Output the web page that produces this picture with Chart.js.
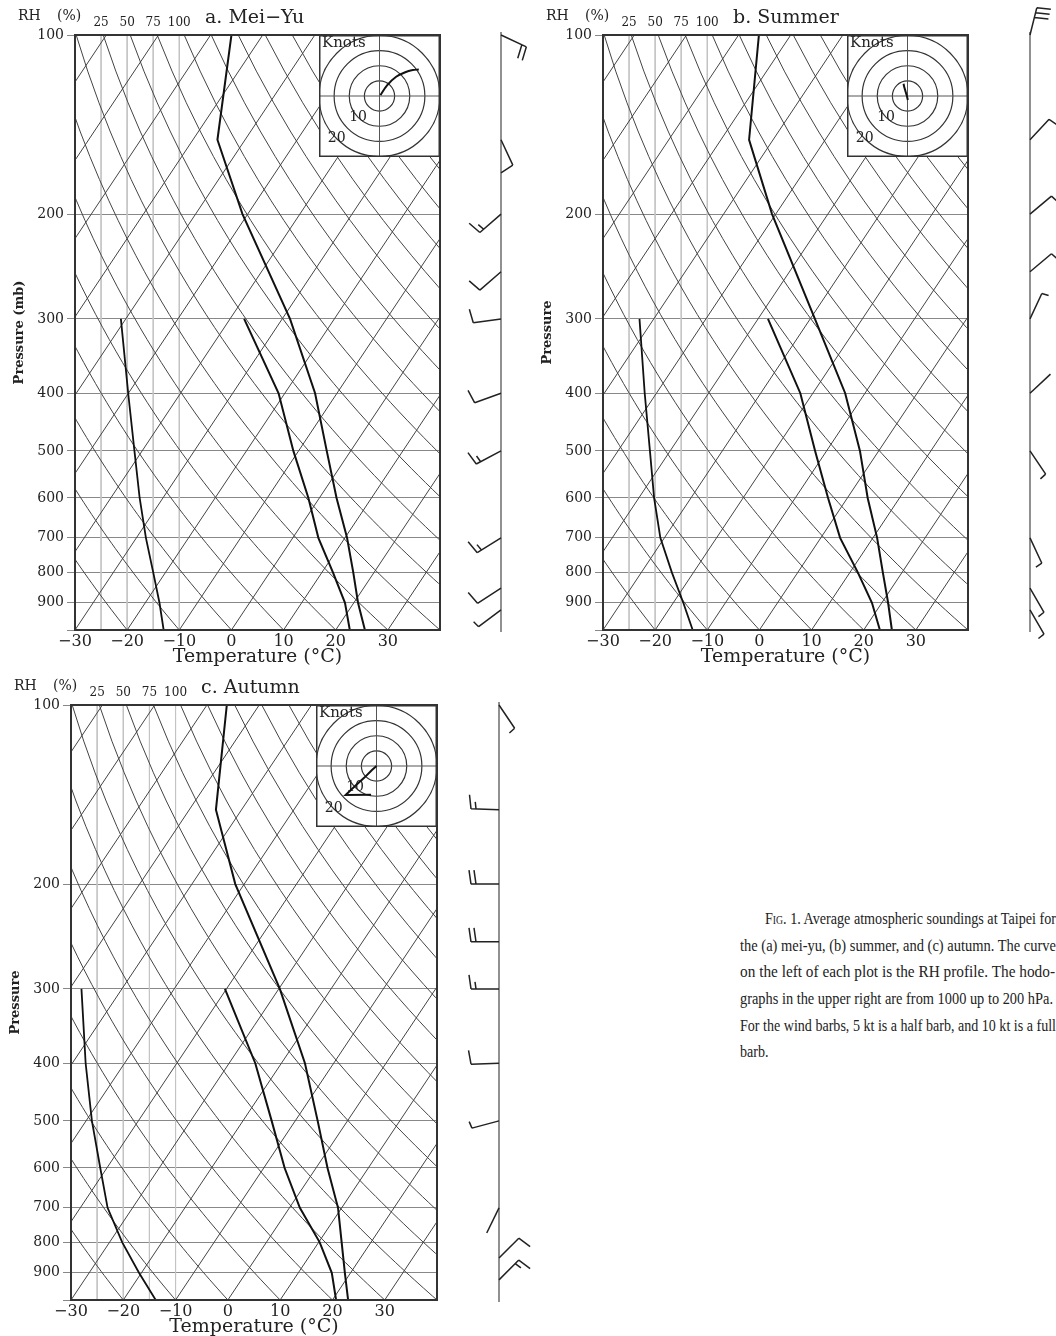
<!DOCTYPE html>
<html>
<head>
<meta charset="utf-8">
<script src="https://cdn.jsdelivr.net/npm/chart.js@4.4.1/dist/chart.umd.min.js"></script>
<style>
  body { margin: 0; background: #fff; width: 1056px; height: 1336px; position: relative; overflow: hidden; }
  canvas { position: absolute; }
  .caption { position: absolute; left: 740px; top: 905px; font-family: "Liberation Serif", serif; font-size: 17.5px; color: #222; }
  .caption div { height: 26.7px; line-height: 26.7px; white-space: nowrap; }
  .caption span { display: inline-block; transform-origin: 0 0; }
  .caption div.first { padding-left: 25px; }
  .sc { font-variant: small-caps; }
</style>
</head>
<body>
<canvas id="meiyu" width="540" height="670" style="left:0;top:0"></canvas>
<canvas id="summer" width="526" height="670" style="left:530px;top:0"></canvas>
<canvas id="autumn" width="540" height="666" style="left:0;top:670px"></canvas>
<canvas id="hodoA" width="121" height="122" style="left:319px;top:35px"></canvas>
<canvas id="hodoB" width="121" height="122" style="left:847px;top:35px"></canvas>
<canvas id="hodoC" width="121" height="122" style="left:316px;top:705px"></canvas>

<div class="caption">
  <div class="first"><span data-w="291"><span class="sc">Fig</span>. 1. Average atmospheric soundings at Taipei for</span></div>
  <div><span data-w="316">the (a) mei-yu, (b) summer, and (c) autumn. The curve</span></div>
  <div><span data-w="315">on the left of each plot is the RH profile. The hodo-</span></div>
  <div><span data-w="313">graphs in the upper right are from 1000 up to 200 hPa.</span></div>
  <div><span data-w="316">For the wind barbs, 5 kt is a half barb, and 10 kt is a full</span></div>
  <div><span>barb.</span></div>
</div>

<script>
// axes
const pressureTicks = [100, 200, 300, 400, 500, 600, 700, 800, 900, 1000];
const rhTicks = [25, 50, 75, 100];
const skew = 76;      // isotherm skew, deg C per decade of pressure
const kappa = 0.2857; // R/cp for the dry adiabats

// sounding levels (hPa)
const tempLevels = [100, 150, 200, 300, 400, 500, 600, 700, 800, 900, 1000];
const moistLevels = [300, 400, 500, 600, 700, 800, 900, 1000];

// temperature / dewpoint (deg C), RH (%)
const meiyuTemp = [-76.0, -65.3, -51.0, -28.5, -14.2, -4.6, 3.3, 10.4, 16.0, 20.8, 25.6];
const meiyuDew = [-37.3, -21.2, -11.0, -2.1, 4.9, 12.1, 18.3, 22.7];
const meiyuRH = [44, 51, 57, 62, 68, 75, 81, 85];

const summerTemp = [-76.1, -64.6, -50.7, -29.1, -13.8, -3.6, 3.9, 10.8, 16.3, 21.2, 25.4];
const summerDew = [-38.1, -22.4, -12.2, -3.7, 3.7, 11.5, 18.1, 23.1];
const summerRH = [35, 40, 45, 49, 55, 66, 77, 86];

const autumnTemp = [-76.2, -64.9, -51.7, -29.8, -15.5, -5.7, 2.2, 9.3, 14.4, 18.9, 23.0];
const autumnDew = [-40.3, -25.0, -14.5, -6.0, 2.0, 10.2, 16.4, 20.7];
const autumnRH = [10, 14, 20, 28, 35, 49, 65, 81];

// wind barbs: direction (deg, from), speed (kt)
const barbLevels = [100, 150, 200, 250, 300, 400, 500, 700, 850, 925];
const meiyuWindDir = [115, 155, 229, 229, 262, 250, 242, 238, 237, 233];
const meiyuWindSpd = [20, 10, 15, 10, 10, 10, 15, 15, 10, 5];
const summerWindDir = [14, 43, 50, 50, 25, 47, 146, 155, 150, 150];
const summerWindSpd = [30, 10, 5, 5, 5, 2, 5, 5, 5, 5];
const autumnWindDir = [146, 272, 270, 270, 270, 268, 255, 206, 45, 45];
const autumnWindSpd = [5, 15, 20, 20, 15, 10, 5, 2, 10, 15];

// hodographs (kt), 1000 up to 200 hPa
const hodoLevels = [1000, 850, 700, 500, 300, 200];
const meiyuHodoU = [0.3, 2.5, 5.5, 8.5, 11, 13];
const meiyuHodoV = [0.3, 3.5, 6.3, 7.8, 8.5, 8.7];
const summerHodoU = [0.1, -0.2, -0.5, -0.8, -1.1, -1.3];
const summerHodoV = [-1.3, 0, 1, 2, 3, 4];
const autumnHodoU = [-1.8, -10.2, -7, -4, -1.5, 0];
const autumnHodoV = [-9.4, -9.5, -6.5, -3.8, -1.3, 0];
const hodoRings = [5, 10, 15, 20];

const serif = "'DejaVu Serif', serif";
const ink = '#222';

function skewX(t, p) { return t + skew * Math.log10(1000 / p); }
function rhToX(r) { return -30 + r / 5; }

// pressures used to trace the curved dry adiabats
const adiabatP = [];
for (let p = 1000; p >= 100; p -= 15) adiabatP.push(p);
adiabatP.push(100);

function drawBarb(ctx, x, y, dir, spd) {
    const rad = dir * Math.PI / 180;
    const ux = Math.sin(rad), uy = -Math.cos(rad);
    const px = -uy, py = ux;
    const L = 28;
    const ex = x + ux * L, ey = y + uy * L;
    ctx.beginPath();
    ctx.moveTo(x, y);
    ctx.lineTo(ex, ey);
    const n = Math.round(spd / 5);
    const full = Math.floor(n / 2), half = n % 2;
    let pos = 0;
    for (let k = 0; k < full; k++) {
        const bx = ex - ux * pos * 5, by = ey - uy * pos * 5;
        ctx.moveTo(bx, by);
        ctx.lineTo(bx + px * 14 + ux * 2, by + py * 14 + uy * 2);
        pos++;
    }
    if (half) {
        const bx = ex - ux * pos * 5, by = ey - uy * pos * 5;
        ctx.moveTo(bx, by);
        ctx.lineTo(bx + px * 7 + ux, by + py * 7 + uy);
    }
    ctx.stroke();
}

function makePanel(o) {
    const datasets = [];
    // profiles
    datasets.push({ data: o.temp.map((t, i) => ({ x: skewX(t, tempLevels[i]), y: tempLevels[i] })), borderColor: '#111', borderWidth: 2, order: 0 });
    datasets.push({ data: o.dew.map((t, i) => ({ x: skewX(t, moistLevels[i]), y: moistLevels[i] })), borderColor: '#111', borderWidth: 2, order: 0 });
    datasets.push({ data: o.rh.map((r, i) => ({ x: rhToX(r), y: moistLevels[i] })), borderColor: '#111', borderWidth: 1.8, order: 0 });
    // isotherms
    for (let t0 = -110; t0 <= 40; t0 += 10) {
        datasets.push({ data: [{ x: t0, y: 1000 }, { x: t0 + skew, y: 100 }], borderColor: '#444', borderWidth: 1, order: 1 });
    }
    // dry adiabats
    for (let t0 = -30; t0 <= 200; t0 += 10) {
        const theta = t0 + 273.15;
        datasets.push({
            data: adiabatP.map(p => ({ x: skewX(theta * Math.pow(p / 1000, kappa) - 273.15, p), y: p })),
            borderColor: '#444', borderWidth: 1, order: 1
        });
    }
    rhTicks.forEach(r => {
        datasets.push({ data: [{ x: rhToX(r), y: 100 }, { x: rhToX(r), y: 1000 }], borderColor: '#c4c4c4', borderWidth: 1, order: 2 });
    });

    const canvas = document.getElementById(o.id);
    new Chart(canvas, {
        type: 'line',
        data: { datasets: datasets },
        options: {
            responsive: false,
            animation: false,
            devicePixelRatio: 1,
            layout: { padding: { left: 0, top: 35, right: o.padRight, bottom: 0 } },
            elements: { point: { radius: 0 }, line: { tension: 0, fill: false } },
            plugins: { legend: { display: false }, tooltip: { enabled: false } },
            scales: {
                x: {
                    type: 'linear', min: -30, max: 40,
                    grid: { display: false, drawTicks: false },
                    border: { display: true, color: '#333', width: 2 },
                    ticks: {
                        stepSize: 10, padding: 2, color: ink, font: { family: serif, size: 16 },
                        callback: v => v > 30 ? '' : (v < 0 ? '\u2212' + (-v) : String(v))
                    },
                    title: { display: true, text: 'Temperature (\u00b0C)', color: ink, font: { family: serif, size: 19 }, padding: { top: 0, bottom: o.xTitlePad } },
                    afterFit: s => { s.height = canvas.height - o.plotBottom; }
                },
                y: {
                    type: 'logarithmic', min: 100, max: 1000, reverse: true,
                    afterBuildTicks: s => { s.ticks = pressureTicks.map(v => ({ value: v })); },
                    grid: { color: '#888', lineWidth: 1, drawTicks: true, tickLength: 8 },
                    border: { display: true, color: '#333', width: 2 },
                    ticks: {
                        autoSkip: false, padding: 3, color: ink, font: { family: serif, size: 14 },
                        callback: v => v === 1000 ? '' : String(v)
                    },
                    title: { display: true, text: o.yTitle, color: ink, font: { family: serif, size: 13, weight: 'bold' }, padding: { top: o.yTitlePad, bottom: 0 } },
                    afterFit: s => { s.width = o.plotLeft; }
                }
            }
        },
        plugins: [{
            id: 'decor',
            afterDraw(chart) {
                const { ctx, chartArea: ca, scales: { x, y } } = chart;
                ctx.save();
                ctx.strokeStyle = '#333';
                ctx.lineWidth = 2;
                ctx.strokeRect(ca.left, ca.top, ca.right - ca.left, ca.bottom - ca.top);

                ctx.fillStyle = ink;
                ctx.textBaseline = 'middle';
                ctx.textAlign = 'left';
                ctx.font = '14px ' + serif;
                ctx.fillText('RH', ca.left - 57, ca.top - 19);
                ctx.fillText('(%)', ca.left - 18, ca.top - 19);
                ctx.font = '12px ' + serif;
                ctx.textAlign = 'center';
                rhTicks.forEach(r => ctx.fillText(String(r), x.getPixelForValue(rhToX(r)), ca.top - 12));
                ctx.font = '19px ' + serif;
                ctx.textAlign = 'left';
                ctx.fillText(o.title, ca.left + 130, ca.top - 17);

                // wind barbs
                const sx = ca.right + o.staff;
                ctx.strokeStyle = '#555';
                ctx.lineWidth = 1.3;
                ctx.beginPath();
                ctx.moveTo(sx, ca.top - 3);
                ctx.lineTo(sx, ca.bottom + 2);
                ctx.stroke();
                ctx.strokeStyle = '#222';
                ctx.lineWidth = 1.5;
                barbLevels.forEach((p, i) => {
                    drawBarb(ctx, sx, y.getPixelForValue(p), o.windDir[i], o.windSpd[i]);
                });
                ctx.restore();
            }
        }]
    });
}

const hodoPlugin = {
    id: 'hodoDecor',
    beforeDatasetsDraw(chart) {
        const { ctx, chartArea: ca, scales: { x, y } } = chart;
        const cx = x.getPixelForValue(0), cy = y.getPixelForValue(0);
        ctx.save();
        ctx.fillStyle = '#fff';
        ctx.fillRect(0, 0, chart.width, chart.height);
        ctx.strokeStyle = '#333';
        ctx.lineWidth = 1.2;
        hodoRings.forEach(r => {
            const rp = x.getPixelForValue(r) - cx;
            ctx.beginPath();
            ctx.arc(cx, cy, rp, 0, Math.PI * 2);
            ctx.stroke();
        });
        ctx.strokeStyle = '#555';
        ctx.lineWidth = 1;
        ctx.beginPath();
        ctx.moveTo(ca.left, cy); ctx.lineTo(ca.right, cy);
        ctx.moveTo(cx, ca.top); ctx.lineTo(cx, ca.bottom);
        ctx.stroke();
        ctx.fillStyle = ink;
        ctx.font = '14px ' + serif;
        ctx.textBaseline = 'middle';
        ctx.textAlign = 'center';
        [10, 20].forEach(r => {
            const rp = x.getPixelForValue(r) - cx;
            ctx.fillText(String(r), cx - rp * 0.707, cy + rp * 0.707);
        });
        ctx.textAlign = 'left';
        ctx.font = '15px ' + serif;
        ctx.fillText('Knots', ca.left + 3, ca.top + 8);
        ctx.restore();
    },
    afterDraw(chart) {
        const ctx = chart.ctx;
        ctx.save();
        ctx.strokeStyle = '#333';
        ctx.lineWidth = 1.5;
        ctx.strokeRect(0.75, 0.75, chart.width - 1.5, chart.height - 1.5);
        ctx.restore();
    }
};

function makeHodo(id, u, v, tension) {
    new Chart(document.getElementById(id), {
        type: 'line',
        data: { datasets: [{ data: u.map((uu, i) => ({ x: uu, y: v[i] })), borderColor: '#111', borderWidth: 2, tension: tension, pointRadius: 0 }] },
        options: {
            responsive: false, animation: false, devicePixelRatio: 1,
            layout: { padding: 0 },
            plugins: { legend: { display: false }, tooltip: { enabled: false } },
            scales: {
                x: { type: 'linear', min: -20, max: 20, display: false },
                y: { type: 'linear', min: -20, max: 20, display: false }
            }
        },
        plugins: [hodoPlugin]
    });
}

makePanel({ id: 'meiyu', title: 'a. Mei\u2212Yu', yTitle: 'Pressure (mb)', plotLeft: 75, plotBottom: 630, padRight: 100, staff: 61,
    xTitlePad: 2, yTitlePad: 12, temp: meiyuTemp, dew: meiyuDew, rh: meiyuRH, windDir: meiyuWindDir, windSpd: meiyuWindSpd });
makePanel({ id: 'summer', title: 'b. Summer', yTitle: 'Pressure', plotLeft: 73, plotBottom: 630, padRight: 88, staff: 62,
    xTitlePad: 2, yTitlePad: 10, temp: summerTemp, dew: summerDew, rh: summerRH, windDir: summerWindDir, windSpd: summerWindSpd });
makePanel({ id: 'autumn', title: 'c. Autumn', yTitle: 'Pressure', plotLeft: 71, plotBottom: 630, padRight: 103, staff: 62,
    xTitlePad: -2, yTitlePad: 8, temp: autumnTemp, dew: autumnDew, rh: autumnRH, windDir: autumnWindDir, windSpd: autumnWindSpd });

makeHodo('hodoA', meiyuHodoU, meiyuHodoV, 0.35);
makeHodo('hodoB', summerHodoU, summerHodoV, 0.2);
makeHodo('hodoC', autumnHodoU, autumnHodoV, 0);

// squeeze each caption line to the column width
let lastScale = 0.85;
document.querySelectorAll('.caption span[data-w]').forEach(s => {
    lastScale = Number(s.dataset.w) / s.getBoundingClientRect().width;
    s.style.transform = 'scaleX(' + lastScale + ')';
});
document.querySelector('.caption div:last-child span').style.transform = 'scaleX(' + lastScale + ')';
</script>
</body>
</html>
